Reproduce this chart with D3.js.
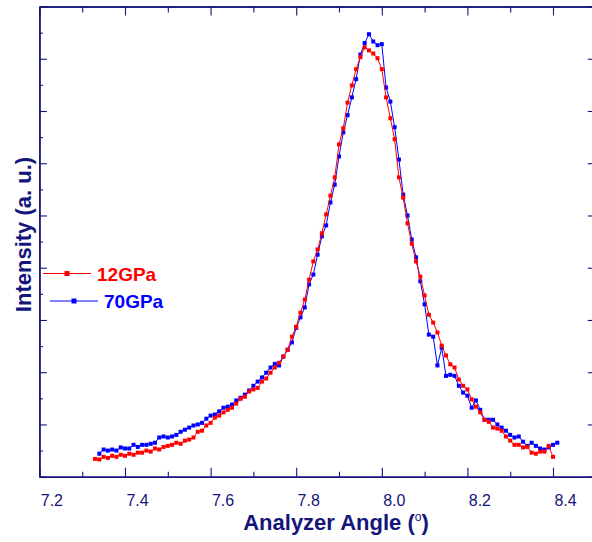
<!DOCTYPE html>
<html>
<head>
<meta charset="utf-8">
<script src="https://cdn.jsdelivr.net/npm/d3@7"></script>
<style>
  body { margin: 0; background: #fff; }
  svg { display: block; font-family: "Liberation Sans", Arial, sans-serif; }
</style>
</head>
<body>
<svg id="chart" width="592" height="542"></svg>
<script>
// analyzer angle (deg), shared by both scans
const angles = [7.33,7.34,7.35,7.36,7.37,7.38,7.39,7.40,7.41,7.42,7.43,7.44,7.45,7.46,7.47,7.48,7.49,
  7.50,7.51,7.52,7.53,7.54,7.55,7.56,7.57,7.58,7.59,7.60,7.61,7.62,7.63,7.64,7.65,7.66,7.67,7.68,7.69,
  7.70,7.71,7.72,7.73,7.74,7.75,7.76,7.77,7.78,7.79,7.80,7.81,7.82,7.83,7.84,7.85,7.86,7.87,7.88,7.89,
  7.90,7.91,7.92,7.93,7.94,7.95,7.96,7.97,7.98,7.99,8.00,8.01,8.02,8.03,8.04,8.05,8.06,8.07,8.08,8.09,
  8.10,8.11,8.12,8.13,8.14,8.15,8.16,8.17,8.18,8.19,8.20,8.21,8.22,8.23,8.24,8.25,8.26,8.27,8.28,8.29,
  8.30,8.31,8.32,8.33,8.34,8.35,8.36,8.37,8.38,8.39,8.40,8.41];

// intensity (a.u.) at 12 GPa
const int12 = [0.34,0.33,0.38,0.36,0.40,0.38,0.42,0.40,0.44,0.42,0.46,0.46,0.50,0.48,0.54,0.52,0.57,
  0.59,0.61,0.65,0.63,0.69,0.71,0.75,0.86,0.88,0.98,1.03,1.13,1.17,1.23,1.28,1.32,1.40,1.49,1.53,1.63,
  1.67,1.70,1.82,1.88,1.99,2.09,2.18,2.30,2.43,2.68,2.87,3.14,3.39,3.77,4.12,4.35,4.66,5.02,5.38,5.73,
  6.36,6.67,7.16,7.49,7.80,8.03,8.22,8.16,8.10,8.01,7.80,7.26,6.86,6.46,5.73,5.34,4.85,4.46,4.12,3.83,
  3.47,3.10,2.95,2.76,2.51,2.32,2.15,2.09,1.86,1.74,1.67,1.48,1.34,1.23,1.09,1.05,0.94,0.92,0.88,0.77,
  0.69,0.61,0.61,0.56,0.57,0.46,0.44,0.48,0.48,0.59,0.38,null];

// intensity (a.u.) at 70 GPa
const int70 = [null,0.44,0.52,0.50,0.52,0.50,0.56,0.54,0.54,0.61,0.57,0.61,0.61,0.63,0.65,0.75,0.77,
  0.75,0.77,0.80,0.86,0.90,0.94,0.98,1.00,1.03,1.11,1.17,1.19,1.25,1.32,1.34,1.38,1.46,1.51,1.57,1.65,
  1.74,1.82,1.90,1.99,2.09,2.16,2.13,2.30,2.43,2.57,2.85,3.05,3.24,3.68,3.87,4.25,4.60,4.81,5.25,5.59,
  6.13,6.59,6.92,7.26,7.61,8.08,8.30,8.47,8.33,8.26,8.28,7.45,7.18,6.69,6.07,5.40,5.00,4.54,4.20,3.74,
  3.30,2.72,2.68,2.13,2.47,1.93,1.95,1.93,1.74,1.61,1.55,1.32,1.46,1.28,1.09,1.09,1.09,1.00,0.94,0.88,
  0.80,0.75,0.77,0.67,0.59,0.65,0.59,0.54,0.52,0.56,0.61,0.65];

const xMajor = [7.2, 7.4, 7.6, 7.8, 8.0, 8.2, 8.4];
const xMinor = [7.3, 7.5, 7.7, 7.9, 8.1, 8.3];
const yMajor = [0, 1, 2, 3, 4, 5, 6, 7, 8, 9];
const yMinor = [0.5, 1.5, 2.5, 3.5, 4.5, 5.5, 6.5, 7.5, 8.5];
const seriesNames = ["12GPa", "70GPa"];
const seriesColors = ["#ff0000", "#0000ff"];

const navy = "#14147a";

const svg = d3.select("#chart");

const xScale = d3.scaleLinear().domain([7.2, 8.5]).range([39.4, 595.8]);
const yScale = d3.scaleLinear().domain([0, 9]).range([476.7, 6.5]);

const x0 = xScale.range()[0], x1 = xScale.range()[1];
const y0 = yScale.range()[0], y1 = yScale.range()[1];

// bottom axis with labels
svg.append("g")
    .attr("class", "x-axis")
    .attr("transform", "translate(0," + y0 + ")")
    .call(d3.axisBottom(xScale)
        .tickValues(xMajor)
        .tickSizeInner(-9)
        .tickSizeOuter(0)
        .tickPadding(18)
        .tickFormat(d3.format(".1f")));

svg.append("g")
    .attr("class", "x-axis minor")
    .attr("transform", "translate(0," + y0 + ")")
    .call(d3.axisBottom(xScale).tickValues(xMinor).tickSizeInner(-5).tickSizeOuter(0).tickFormat(""));

// top axis, ticks only
svg.append("g")
    .attr("class", "x-axis top")
    .attr("transform", "translate(0," + y1 + ")")
    .call(d3.axisTop(xScale).tickValues(xMajor).tickSizeInner(-9).tickSizeOuter(0).tickFormat(""));

svg.append("g")
    .attr("class", "x-axis top minor")
    .attr("transform", "translate(0," + y1 + ")")
    .call(d3.axisTop(xScale).tickValues(xMinor).tickSizeInner(-6).tickSizeOuter(0).tickFormat(""));

// left axis, no labels
svg.append("g")
    .attr("class", "y-axis")
    .attr("transform", "translate(" + x0 + ",0)")
    .call(d3.axisLeft(yScale).tickValues(yMajor).tickSizeInner(-7.5).tickSizeOuter(0).tickFormat(""));

svg.append("g")
    .attr("class", "y-axis minor")
    .attr("transform", "translate(" + x0 + ",0)")
    .call(d3.axisLeft(yScale).tickValues(yMinor).tickSizeInner(-3.5).tickSizeOuter(0).tickFormat(""));

// right axis
svg.append("g")
    .attr("class", "y-axis right")
    .attr("transform", "translate(" + x1 + ",0)")
    .call(d3.axisRight(yScale).tickValues(yMajor).tickSizeInner(-8).tickSizeOuter(0).tickFormat(""));

svg.selectAll(".x-axis path, .y-axis path")
    .attr("stroke", navy)
    .attr("stroke-width", 1.4);
svg.selectAll(".x-axis line, .y-axis line")
    .attr("stroke", navy)
    .attr("stroke-width", 1.1);

svg.selectAll(".x-axis text")
    .attr("dx", 12)
    .attr("fill", navy)
    .style("font-family", "'Liberation Sans', Arial, sans-serif")
    .style("font-size", "16px");

// data
const rows = angles.map(function (a, i) { return {angle: a, v12: int12[i], v70: int70[i]}; });
const keys = ["v12", "v70"];

// draw 70GPa first so the 12GPa scan sits on top
[1, 0].forEach(function (s) {
    const key = keys[s];
    const pts = rows.filter(function (d) { return d[key] != null; });

    const line = d3.line()
        .x(function (d) { return xScale(d.angle); })
        .y(function (d) { return yScale(d[key]); });

    svg.append("path")
        .datum(pts)
        .attr("fill", "none")
        .attr("stroke", seriesColors[s])
        .attr("stroke-width", 1)
        .attr("d", line);

    svg.append("g")
        .selectAll("rect")
        .data(pts)
        .enter().append("rect")
        .attr("x", function (d) { return xScale(d.angle) - 2; })
        .attr("y", function (d) { return yScale(d[key]) - 2; })
        .attr("width", 4)
        .attr("height", 4)
        .attr("fill", seriesColors[s]);
});

// legend
const legendPos = [{x: 43, y: 273.5}, {x: 50, y: 301}];
const legend = svg.append("g").attr("class", "legend");
seriesNames.forEach(function (name, i) {
    const p = legendPos[i];
    legend.append("line")
        .attr("x1", p.x).attr("x2", p.x + 48)
        .attr("y1", p.y).attr("y2", p.y)
        .attr("stroke", seriesColors[i])
        .attr("stroke-width", 1);
    legend.append("rect")
        .attr("x", p.x + 24 - 2.5).attr("y", p.y - 2.5)
        .attr("width", 5).attr("height", 5)
        .attr("fill", seriesColors[i]);
    legend.append("text")
        .attr("x", p.x + 54)
        .attr("y", p.y + 7)
        .attr("fill", seriesColors[i])
        .style("font-size", "19px")
        .style("font-weight", "bold")
        .text(name);
});

// axis titles
const xTitle = svg.append("text")
    .attr("x", 336)
    .attr("y", 530)
    .attr("text-anchor", "middle")
    .attr("fill", navy)
    .style("font-size", "22px")
    .style("font-weight", "bold");
xTitle.append("tspan").text("Analyzer Angle (");
xTitle.append("tspan").attr("dy", -9).style("font-size", "12px").style("font-weight", "normal").text("o");
xTitle.append("tspan").attr("dy", 9).text(")");

svg.append("text")
    .attr("transform", "translate(31,234.5) rotate(-90)")
    .attr("text-anchor", "middle")
    .attr("fill", navy)
    .style("font-size", "22px")
    .style("font-weight", "bold")
    .text("Intensity (a. u.)");
</script>
</body>
</html>
